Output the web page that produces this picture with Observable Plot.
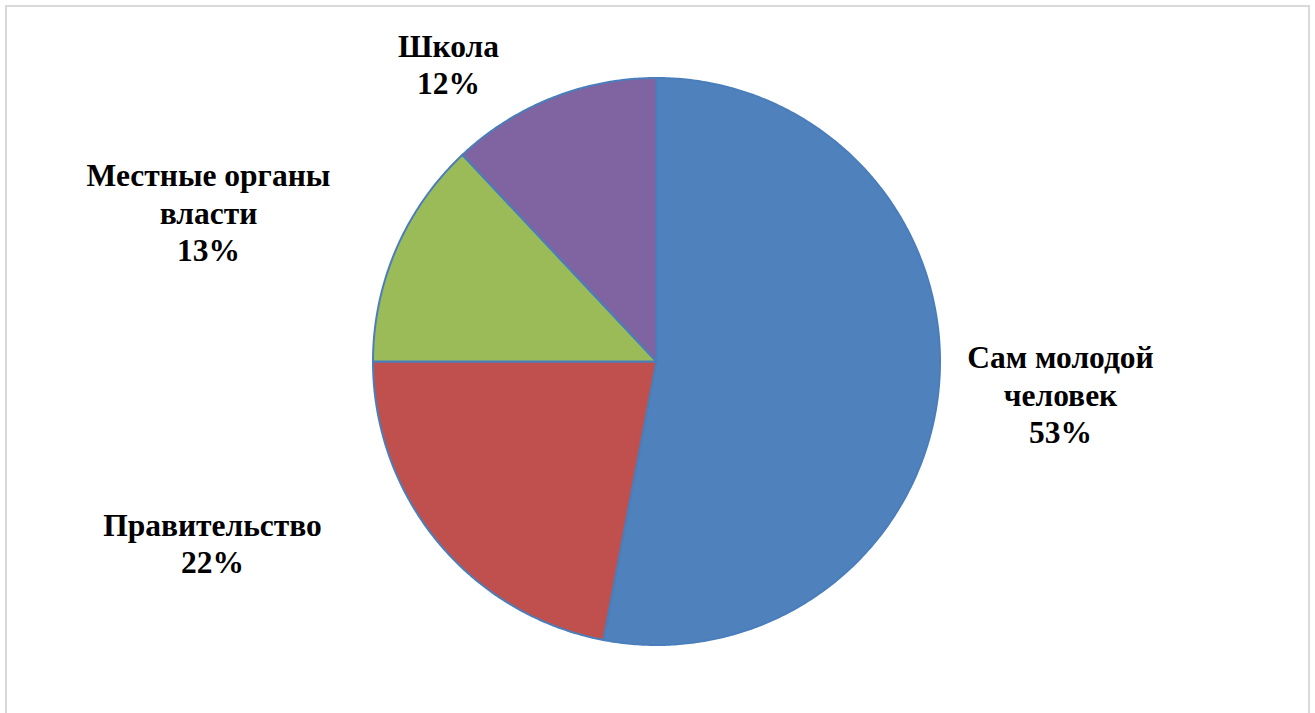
<!DOCTYPE html>
<html>
<head>
<meta charset="utf-8">
<script src="https://cdn.jsdelivr.net/npm/d3@7"></script>
<script src="https://cdn.jsdelivr.net/npm/@observablehq/plot@0.6"></script>
<style>
  html, body { margin: 0; padding: 0; background: #fff; overflow: hidden; }
  #wrap { position: relative; width: 1315px; height: 713px; overflow: hidden; }
  #frame { position: absolute; left: 5px; top: 5px; width: 1301px; height: 760px; border: 2.5px solid #d9d9d9; box-sizing: content-box; pointer-events: none; }
  #chart { position: absolute; left: 0; top: 0; }
</style>
</head>
<body>
<div id="wrap">
  <div id="chart"></div>
  <div id="frame"></div>
</div>
<script>
// ---- data ----
const categories = ["Сам молодой человек", "Правительство", "Местные органы власти", "Школа"];
const shares = [53, 22, 13, 12];
const labelTexts = ["Сам молодой\nчеловек", "Правительство", "Местные органы\nвласти", "Школа"];
const sliceColors = ["#4F81BD", "#C0504D", "#9BBB59", "#8064A2"];

// ---- layout (pixels) ----
const W = 1315, H = 713;
const cx = 656, cy = 361, R = 283.5;
// label anchor (bottom baseline, centered) offset from pie centre, px
const labelOffsets = [[404, 81], [-444, 211], [-448, -101], [-208, -268]];

// ---- build pie geometry from data ----
const arcs = d3.pie().sort(null).value(d => d)(shares);
const slicePts = [];
arcs.forEach((a, i) => {
  const name = categories[i];
  slicePts.push({name, x: 0, y: 0});
  const n = Math.max(2, Math.ceil((a.endAngle - a.startAngle) / (Math.PI / 360)));
  for (let k = 0; k <= n; k++) {
    const t = a.startAngle + (a.endAngle - a.startAngle) * k / n;
    slicePts.push({name, x: Math.sin(t), y: Math.cos(t)});
  }
  slicePts.push({name, x: 0, y: 0});
});

const labels = categories.map((c, i) => ({
  name: c,
  text: labelTexts[i] + "\n" + shares[i] + "%",
  x: labelOffsets[i][0] / R,
  y: -labelOffsets[i][1] / R
}));

const chart = Plot.plot({
  width: W,
  height: H,
  margin: 0,
  x: {domain: [-cx / R, (W - cx) / R], range: [0, W], axis: null},
  y: {domain: [-(H - cy) / R, cy / R], range: [H, 0], axis: null},
  color: {domain: categories, range: sliceColors},
  style: {background: "transparent"},
  marks: [
    Plot.line(slicePts, {
      x: "x", y: "y", z: "name",
      fill: "name",
      stroke: "#4A7EBB",
      strokeWidth: 2,
      strokeLinejoin: "round"
    }),
    Plot.text(labels, {
      x: "x", y: "y",
      text: "text",
      textAnchor: "middle",
      lineAnchor: "bottom",
      lineHeight: 1.175,
      fontSize: 31.5,
      fontWeight: "bold",
      fontFamily: "Liberation Serif, Times New Roman, serif",
      fill: "#000"
    })
  ]
});
document.getElementById("chart").appendChild(chart);
</script>
</body>
</html>
